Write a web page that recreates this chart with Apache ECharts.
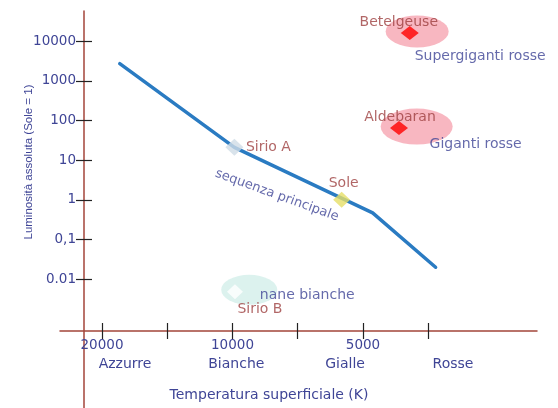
<!DOCTYPE html>
<html><head><meta charset="utf-8">
<script src="https://cdn.jsdelivr.net/npm/echarts@6/dist/echarts.min.js"></script>
<style>html,body{margin:0;padding:0;background:#fff}#c{width:558px;height:408px}</style>
</head><body><div id="c"></div>
<script>
// ---------- DATA ----------
const tempTicks = [20000, 14142, 10000, 7071, 5000, 3536];
const tempLabelTemps = [20000, 10000, 5000];
const tempLabelTexts = ['20000', '10000', '5000'];
const colourNames = ['Azzurre', 'Bianche', 'Gialle', 'Rosse'];
const colourTemps = [17700, 9800, 5500, 3100];
const lumTicks = [10000, 1000, 100, 10, 1, 0.1, 0.01];
const lumTickLabels = ['10000', '1000', '100', '10', '1', '0,1', '0.01'];
const mainSeqTemp = [18200, 9900, 4750, 3400];
const mainSeqLum = [2700, 21, 0.47, 0.02];
const starNames = ['Sirio A', 'Sole', 'Betelgeuse', 'Aldebaran', 'Sirio B'];
const starTemps = [9900, 5600, 3900, 4130, 9870];
const starLums = [21, 1, 16000, 65, 0.0048];
const regionNames = ['Supergiganti rosse', 'Giganti rosse', 'nane bianche'];
const regionTemps = [3750, 3760, 9150];
const regionLums = [17500, 70, 0.0054];
const seqName = 'sequenza principale';
const seqTemp = 7900;
const seqLum = 1.3;

// ---------- SCALES (log temperature reversed, log luminosity) ----------
const X_REF = 20000, X_SHIFT = 0.1379, X_MIN = -0.1839, X_MAX = 3.4713;
const Y_SHIFT = 3.306, Y_MIN = -1.940, Y_MAX = 8.065;
const tx = T => Math.log2(X_REF / T) + X_SHIFT;
const ly = L => Math.log10(L) + Y_SHIFT;

const xTickVals = tempTicks.map(tx);
const xLabelVals = tempLabelTemps.map(tx);
const colourVals = colourTemps.map(tx);
const yTickVals = lumTicks.map(ly);
const nearest = (arr, v) => { let b = 0; arr.forEach((a, i) => { if (Math.abs(a - v) < Math.abs(arr[b] - v)) b = i; }); return b; };

// ---------- STYLES ----------
const FONT = 'DejaVu Sans';
const BLUE = '#3f4596';
const RED_TXT = '#9e4040';
const AXIS = '#a3453a';
const X_OFFSET = -77;   // x axis line drawn inside the grid
const Y_OFFSET = -24;   // y axis line drawn inside the grid
const starStyle = {
  'Sirio A':    { color: '#cfdce6', size: [18, 17], offset: [34, 0] },
  'Sole':       { color: '#e6df66', size: [17, 16], offset: [2, -16] },
  'Betelgeuse': { color: '#ff0000', size: [18, 14], offset: [-11, -11] },
  'Aldebaran':  { color: '#ff0000', size: [18, 14], offset: [1, -11] },
  'Sirio B':    { color: '#ffffff', size: [16, 15], offset: [25, 18] }
};
const regionStyle = {
  'Supergiganti rosse': { color: '#f6a5b2', size: [63, 32], offset: [63, 25] },
  'Giganti rosse':      { color: '#f6a5b2', size: [72, 36], offset: [59, 18] },
  'nane bianche':       { color: '#d3efea', size: [56, 30], offset: [58, 6] }
};

const regionData = regionNames.map((n, i) => ({
  name: n, value: [tx(regionTemps[i]), ly(regionLums[i])],
  symbolSize: regionStyle[n].size,
  itemStyle: { color: regionStyle[n].color },
  label: { offset: regionStyle[n].offset }
}));
const starData = starNames.map((n, i) => ({
  name: n, value: [tx(starTemps[i]), ly(starLums[i])],
  symbolSize: starStyle[n].size,
  itemStyle: { color: starStyle[n].color },
  label: { offset: starStyle[n].offset }
}));
const lineData = mainSeqTemp.map((t, i) => [tx(t), ly(mainSeqLum[i])]);

const tickStyle = { color: '#222', width: 1.2 };
const chart = echarts.init(document.getElementById('c'), null, { renderer: 'canvas' });
chart.setOption({
  animation: false,
  backgroundColor: '#ffffff',
  grid: { left: 60, right: 21, top: 11, bottom: 0, containLabel: false, outerBoundsMode: 'none' },
  xAxis: [{
    type: 'value', min: X_MIN, max: X_MAX, position: 'bottom', offset: X_OFFSET,
    axisLine: { show: true, onZero: false, lineStyle: { color: AXIS, width: 1.5 } },
    axisTick: { show: true, customValues: xTickVals, length: 8, lineStyle: tickStyle },
    axisLabel: { customValues: xLabelVals, formatter: v => tempLabelTexts[nearest(xLabelVals, v)],
      margin: 7, color: BLUE, fontSize: 13.5, fontFamily: FONT },
    splitLine: { show: false },
    name: 'Temperatura superficiale (K)', nameLocation: 'middle', nameGap: 57, nameMoveOverlap: false,
    nameTextStyle: { color: BLUE, fontSize: 14, fontFamily: FONT, padding: [0, 59, 0, 0] }
  }, {
    type: 'value', min: X_MIN, max: X_MAX, position: 'bottom', offset: X_OFFSET,
    axisLine: { show: false, onZero: false },
    axisTick: { show: true, inside: true, customValues: xTickVals, length: 8, lineStyle: tickStyle },
    axisLabel: { customValues: colourVals, formatter: v => colourNames[nearest(colourVals, v)],
      margin: 26, color: BLUE, fontSize: 14, fontFamily: FONT },
    splitLine: { show: false }
  }],
  yAxis: [{
    type: 'value', min: Y_MIN, max: Y_MAX, position: 'left', offset: Y_OFFSET,
    axisLine: { show: true, onZero: false, lineStyle: { color: AXIS, width: 1.5 } },
    axisTick: { show: true, customValues: yTickVals, length: 8, lineStyle: tickStyle },
    axisLabel: { customValues: yTickVals, formatter: v => lumTickLabels[nearest(yTickVals, v)],
      margin: 8, color: BLUE, fontSize: 13.5, fontFamily: FONT },
    splitLine: { show: false },
    name: 'Luminosità assoluta (Sole = 1)', nameLocation: 'middle', nameGap: 49, nameMoveOverlap: false,
    nameTextStyle: { color: BLUE, fontSize: 11.5, fontFamily: 'Liberation Sans', padding: [0, 0, 0, 95] }
  }, {
    type: 'value', min: Y_MIN, max: Y_MAX, position: 'left', offset: Y_OFFSET,
    axisLine: { show: false, onZero: false },
    axisTick: { show: true, inside: true, customValues: yTickVals, length: 8, lineStyle: tickStyle },
    axisLabel: { show: false },
    splitLine: { show: false }
  }],
  series: [{
    type: 'scatter', name: 'regions', z: 1, symbol: 'circle',
    data: regionData,
    label: { show: true, position: 'inside', formatter: '{b}', color: BLUE, fontSize: 14, fontFamily: FONT }
  }, {
    type: 'line', name: 'main', z: 2, data: lineData, showSymbol: false, symbol: 'none',
    lineStyle: { color: '#2a7bc2', width: 3.5, join: 'round', cap: 'round' }
  }, {
    type: 'scatter', name: 'stars', z: 3, symbol: 'diamond',
    data: starData,
    label: { show: true, position: 'inside', formatter: '{b}', color: RED_TXT, fontSize: 14, fontFamily: FONT }
  }, {
    type: 'scatter', name: 'seq', z: 4, symbol: 'circle', symbolSize: 1,
    itemStyle: { color: 'rgba(0,0,0,0)' },
    data: [{ name: seqName, value: [tx(seqTemp), ly(seqLum)] }],
    label: { show: true, position: 'inside', formatter: '{b}', rotate: -20, color: BLUE, fontSize: 13, fontFamily: FONT }
  }]
});
</script>
</body></html>
